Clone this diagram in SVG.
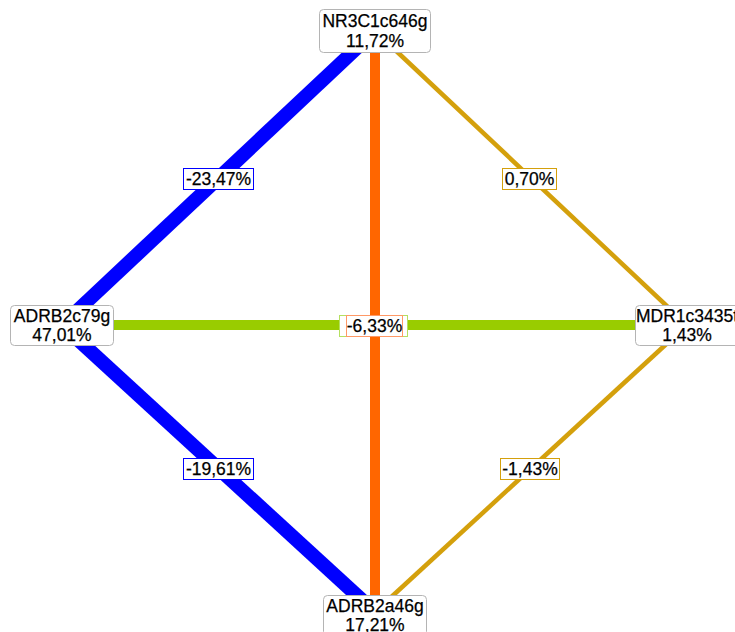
<svg xmlns="http://www.w3.org/2000/svg" width="735" height="632" viewBox="0 0 735 632">
<style>
.node rect{fill:#fff;stroke:#b4b4b4;stroke-width:1}
text{font-family:"Liberation Sans",Arial,sans-serif;font-size:17.5px;fill:#000;text-anchor:middle;stroke:#000;stroke-width:0.25}
.lbl rect{fill:#fff;stroke-width:1}
</style>
<rect width="735" height="632" fill="#fff"/>
<g id="connectors" fill="none">
<line x1="375" y1="31" x2="62" y2="325" stroke="#0000ff" stroke-width="14"/>
<line x1="62" y1="325" x2="375" y2="612" stroke="#0000ff" stroke-width="14"/>
<line x1="375" y1="31" x2="687" y2="325" stroke="#d4a00c" stroke-width="4.5"/>
<line x1="687" y1="325" x2="375" y2="612" stroke="#d4a00c" stroke-width="4.5"/>
<line x1="62" y1="325" x2="687" y2="325" stroke="#99cc00" stroke-width="10"/>
<line x1="375" y1="31" x2="375" y2="612" stroke="#ff6600" stroke-width="10"/>
</g>
<g id="edge-labels">
<g class="lbl"><rect x="183.5" y="168.5" width="70" height="21" stroke="#0000ff"/><text x="218.5" y="185">-23,47%</text></g>
<g class="lbl"><rect x="502.5" y="168.5" width="54" height="21" stroke="#d4a00c"/><text x="529.5" y="185">0,70%</text></g>
<g class="lbl"><rect x="183.5" y="458.5" width="70" height="21" stroke="#0000ff"/><text x="218.5" y="475">-19,61%</text></g>
<g class="lbl"><rect x="500.5" y="458.5" width="59" height="21" stroke="#d4a00c"/><text x="530" y="475">-1,43%</text></g>
<g class="lbl"><rect x="339.5" y="315.5" width="68" height="21" stroke="#b5e060"/></g>
<g class="lbl"><rect x="346.5" y="315.5" width="56" height="21" stroke="#ff9966"/><text x="374.5" y="332">-6,33%</text></g>
</g>
<g id="node-NR3C1c646g" class="node"><rect x="319.5" y="9.5" width="111" height="43" rx="4"/><text x="375" y="27">NR3C1c646g</text><text x="375" y="47">11,72%</text></g>
<g id="node-ADRB2c79g" class="node"><rect x="10.5" y="305.5" width="103" height="40" rx="4"/><text x="62" y="322">ADRB2c79g</text><text x="62" y="341">47,01%</text></g>
<g id="node-MDR1c3435t" class="node"><rect x="635.5" y="305.5" width="104" height="40" rx="4"/><text x="687" y="322">MDR1c3435t</text><text x="687" y="341">1,43%</text></g>
<g id="node-ADRB2a46g" class="node"><rect x="323.5" y="595.5" width="103" height="40" rx="4"/><text x="375" y="612">ADRB2a46g</text><text x="375" y="631">17,21%</text></g>
</svg>
